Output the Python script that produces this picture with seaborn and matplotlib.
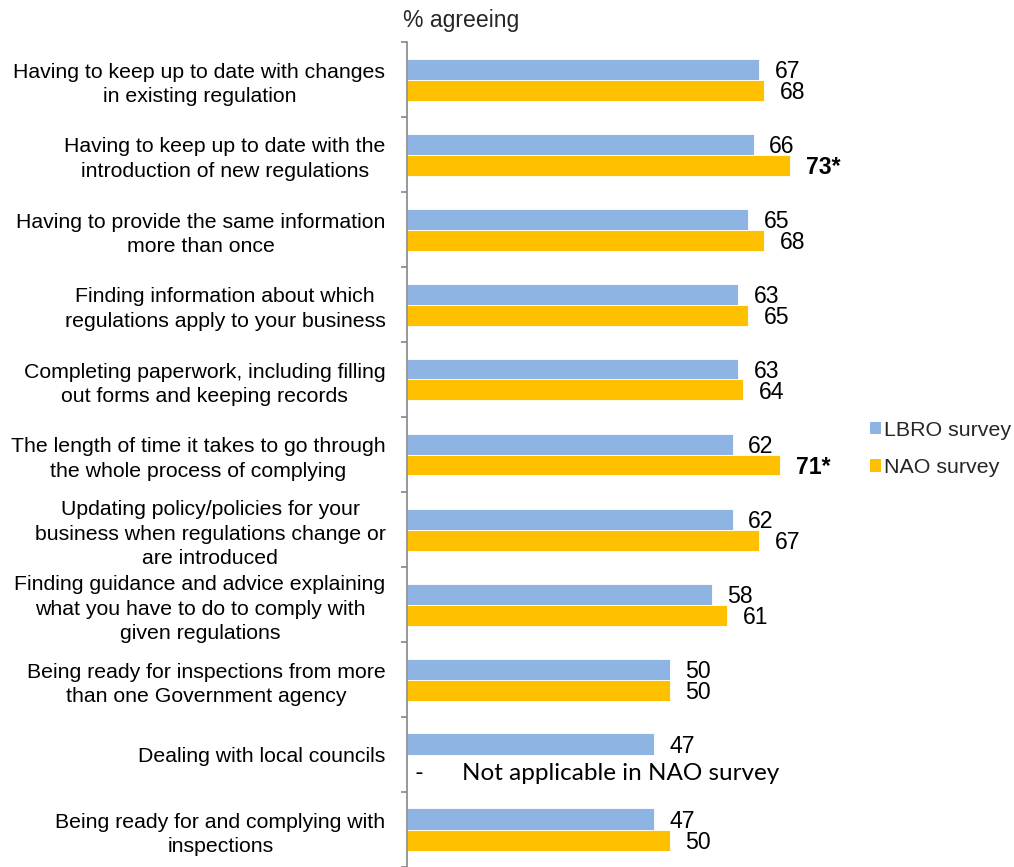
import numpy as np
import pandas as pd
import matplotlib
matplotlib.use("Agg")
import matplotlib.pyplot as plt
from matplotlib.patches import Patch
from matplotlib.ticker import FixedLocator
import seaborn as sns

categories = [
    "Having to keep up to date with changes\nin existing regulation",
    "Having to keep up to date with the\nintroduction of new regulations",
    "Having to provide the same information\nmore than once",
    "Finding information about which\nregulations apply to your business",
    "Completing paperwork, including filling\nout forms and keeping records",
    "The length of time it takes to go through\nthe whole process of complying",
    "Updating policy/policies for your\nbusiness when regulations change or\nare introduced",
    "Finding guidance and advice explaining\nwhat you have to do to comply with\ngiven regulations",
    "Being ready for inspections from more\nthan one Government agency",
    "Dealing with local councils",
    "Being ready for and complying with\ninspections",
]
lbro = [67, 66, 65, 63, 63, 62, 62, 58, 50, 47, 47]
nao = [68, 73, 68, 65, 64, 71, 67, 61, 50, np.nan, 50]
nao_significant = [False, True, False, False, False, True, False, False, False, False, False]
series = ["LBRO survey", "NAO survey"]
colors = ["#8EB4E3", "#FFC000"]

sns.set_theme(style="white")
plt.rcParams["font.family"] = ["Liberation Sans", "DejaVu Sans"]
plt.rcParams["font.sans-serif"] = ["Liberation Sans", "DejaVu Sans"]

df = pd.DataFrame({
    "category": categories * 2,
    "value": lbro + nao,
    "survey": [series[0]] * len(categories) + [series[1]] * len(categories),
})

fig = plt.figure(figsize=(10.14, 8.67), dpi=100)
ax = fig.add_axes([407 / 1014, 0.0, 445 / 1014, 1 - 42 / 867])

sns.barplot(data=df, y="category", x="value", hue="survey", orient="h",
            palette=colors, saturation=1, width=0.56, order=categories,
            hue_order=series, edgecolor="white", linewidth=0.6,
            errorbar=None, ax=ax, legend=False)

ax.set_xlim(0, 445 / 5.25)
ax.set_ylim(len(categories) - 0.5, -0.5)
ax.set_xlabel("")
ax.set_ylabel("")
ax.set_xticks([])
for side in ["top", "right", "bottom"]:
    ax.spines[side].set_visible(False)
ax.spines["left"].set_color("#868686")
ax.spines["left"].set_linewidth(1.2)

# category labels at centres, separator ticks at group boundaries
ax.set_yticks(range(len(categories)))
ax.set_yticklabels(categories, fontsize=15.3, color="black",
                   ha="right", multialignment="center", linespacing=1.34)
ax.tick_params(axis="y", which="major", length=0, pad=15.5)
ax.yaxis.set_minor_locator(FixedLocator(np.arange(-0.5, len(categories), 1.0)))
ax.tick_params(axis="y", which="minor", length=4, width=1.2,
               color="#868686", direction="out", left=True)

# value labels
off = 0.14
for i, v in enumerate(lbro):
    ax.text(v + 3.0, i - off, f"{v:g}", va="center_baseline", ha="left",
            fontsize=16.6, color="black")
for i, v in enumerate(nao):
    if np.isnan(v):
        ax.text(1.5, i + 0.34, "-", va="baseline", ha="left",
                fontsize=17, family="Lato", color="black")
        ax.text(10.5, i + 0.34, "Not applicable in NAO survey", va="baseline",
                ha="left", fontsize=17.5, family="Lato", color="black")
        continue
    star = nao_significant[i]
    ax.text(v + 3.0, i + off, f"{v:g}*" if star else f"{v:g}",
            va="center_baseline", ha="left", fontsize=16.6,
            fontweight="bold" if star else "normal", color="black")

fig.text(403 / 1014, 1 - 20 / 867, "% agreeing", fontsize=16.6,
         va="center", ha="left")

handles = [Patch(facecolor=c, edgecolor="none") for c in colors]
fig.legend(handles, series, loc="center left",
           bbox_to_anchor=(870 / 1014, 1 - 449 / 867), frameon=False,
           fontsize=15.4, handlelength=0.5, handleheight=0.5,
           handletextpad=0.15, labelspacing=0.85, borderpad=0.0,
           borderaxespad=0.0)

fig.savefig("out.png", dpi=100, facecolor="white")
